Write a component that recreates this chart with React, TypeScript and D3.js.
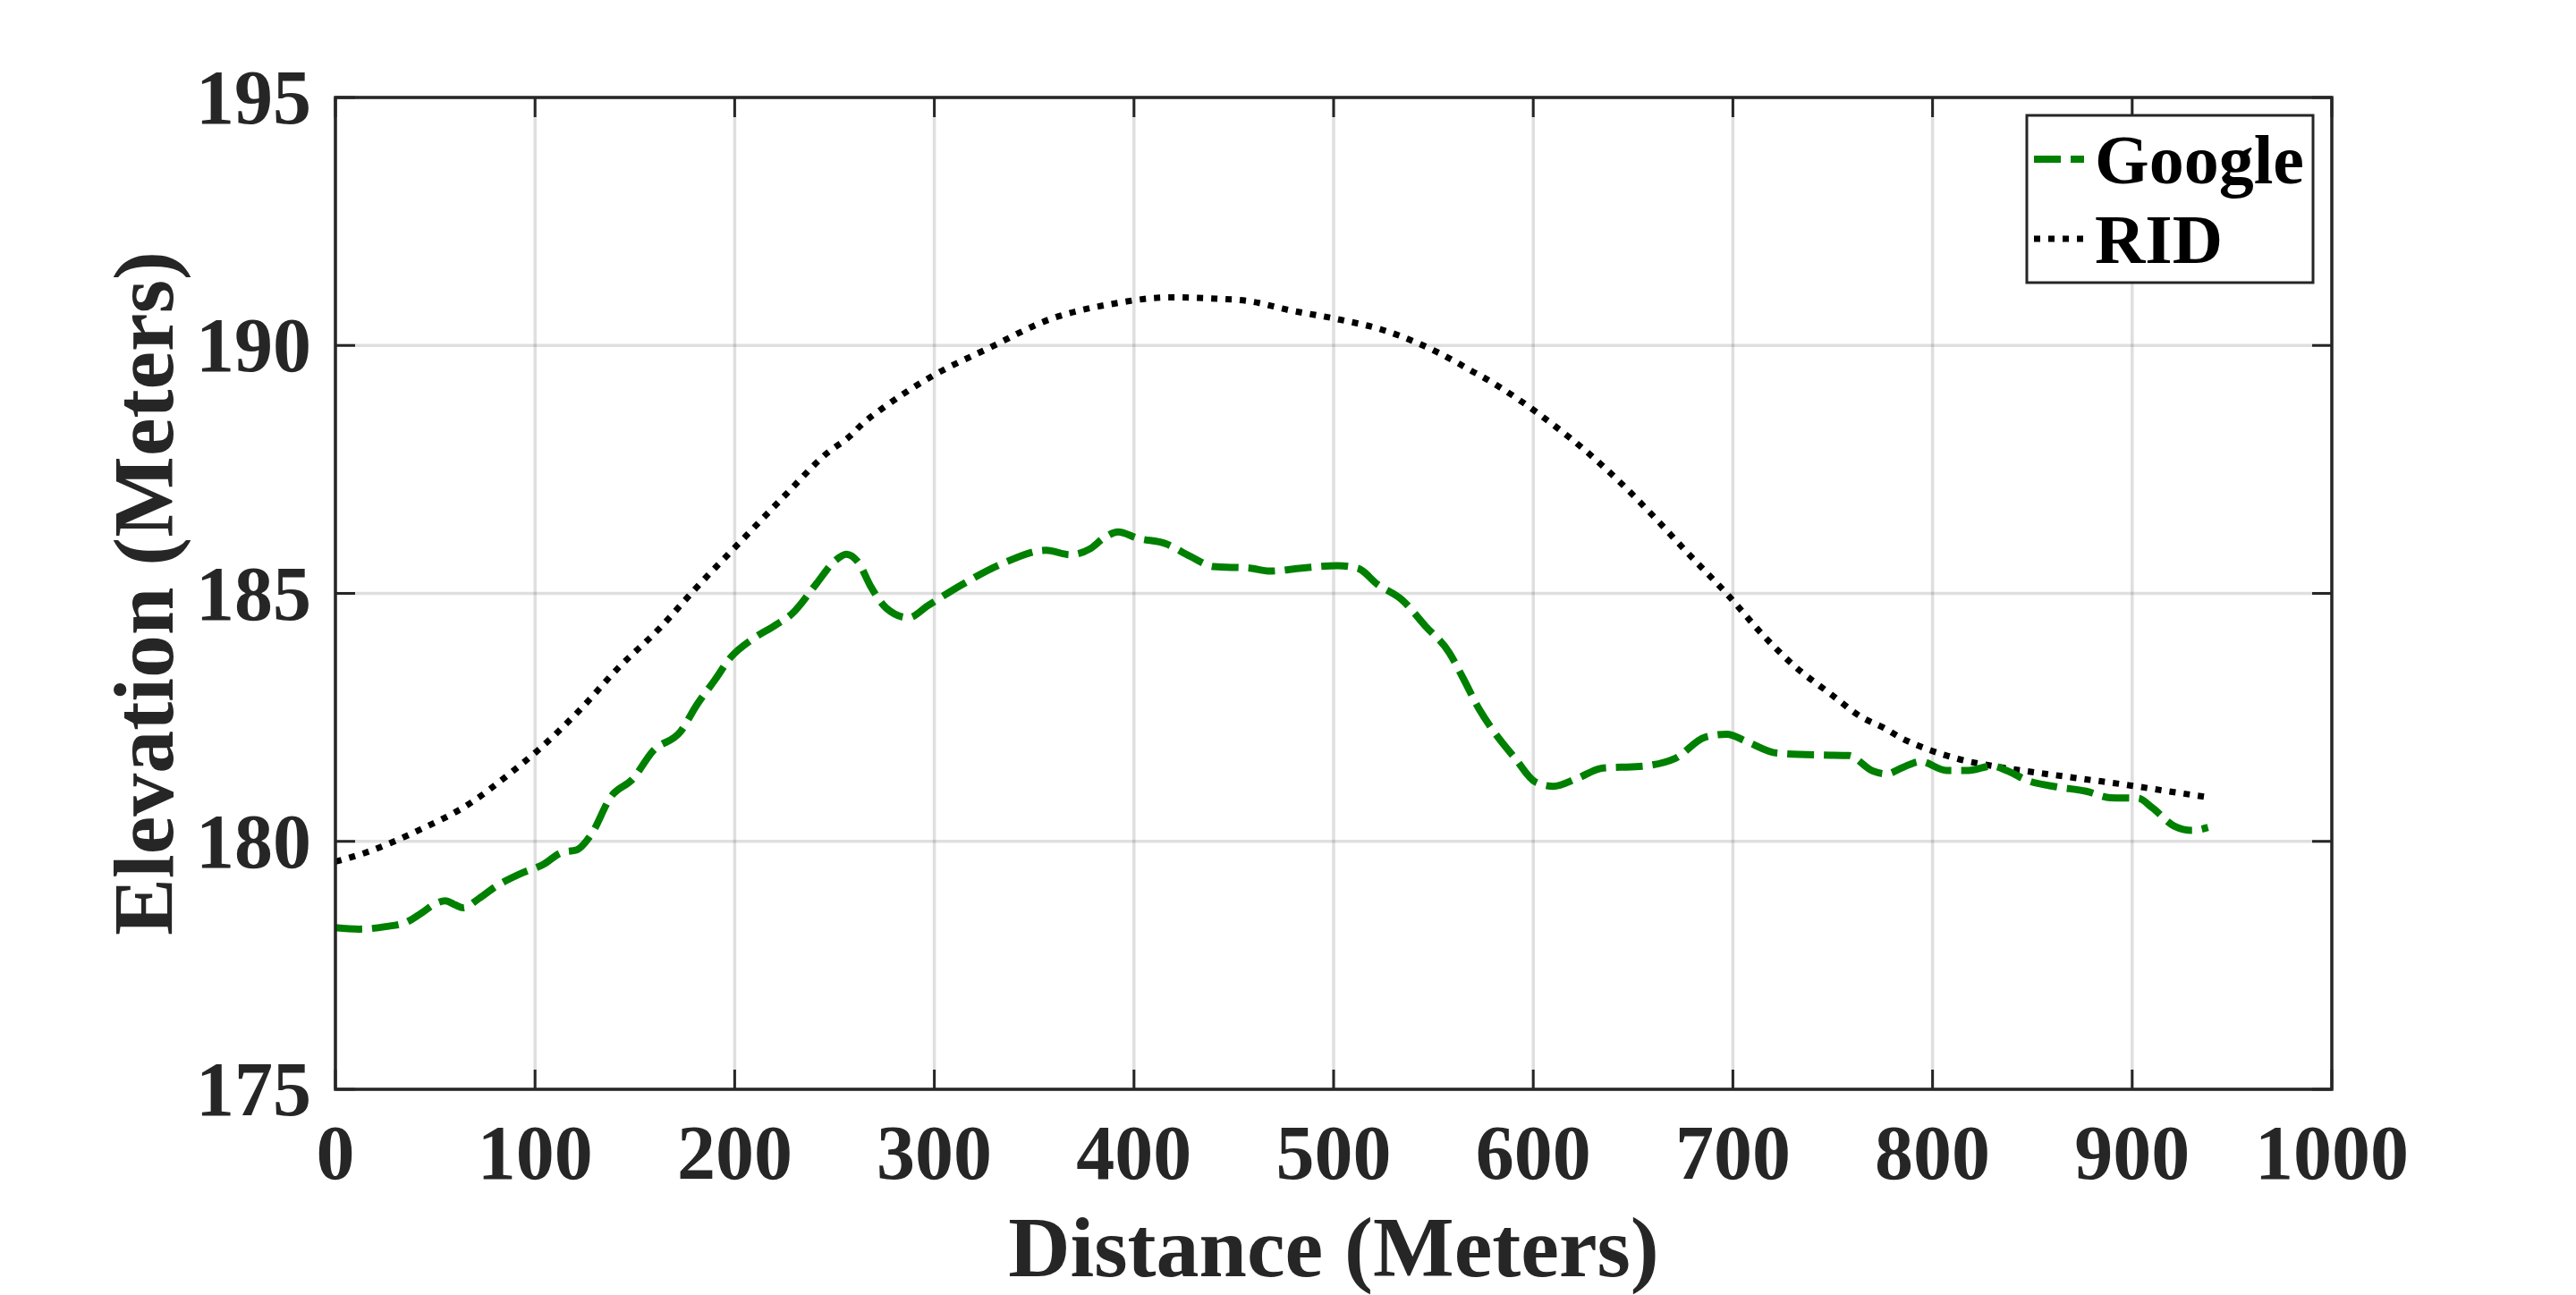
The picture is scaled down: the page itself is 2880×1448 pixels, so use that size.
import * as d3 from "d3";

const googleDist = [
  0, 12, 25, 35, 43, 50, 55, 60, 64, 72, 80, 94, 104, 113, 121, 128, 138, 149, 159, 173,
  181, 190, 198, 209, 220, 229, 241, 250, 256, 262, 268, 276, 287, 297, 314, 334, 356, 368,
  378, 385, 392, 402, 416, 428, 440, 458, 468, 484, 502, 512, 522, 534, 546, 558, 565, 573,
  580, 591, 601, 610, 622, 635, 653, 671, 686, 697, 707, 722, 745, 758, 770, 777, 785, 794,
  807, 818, 830, 837, 848, 862, 877, 889, 903, 910, 921, 930, 938,
];
const googleElev = [
  178.26, 178.23, 178.28, 178.36, 178.55, 178.74, 178.8, 178.72, 178.66, 178.85, 179.08,
  179.37, 179.53, 179.77, 179.83, 180.13, 180.9, 181.26, 181.82, 182.22, 182.75, 183.25,
  183.71, 184.08, 184.35, 184.6, 185.2, 185.65, 185.79, 185.62, 185.15, 184.7, 184.51,
  184.76, 185.18, 185.6, 185.87, 185.78, 185.9, 186.12, 186.24, 186.11, 186.0, 185.75,
  185.54, 185.51, 185.45, 185.51, 185.56, 185.51, 185.18, 184.88, 184.34, 183.8, 183.28,
  182.66, 182.23, 181.67, 181.2, 181.11, 181.27, 181.48, 181.51, 181.67, 182.1, 182.16,
  182.01, 181.78, 181.74, 181.73, 181.42, 181.36, 181.49, 181.61, 181.43, 181.43, 181.52,
  181.43, 181.22, 181.1, 181.01, 180.88, 180.87, 180.68, 180.31, 180.22, 180.28,
];

const ridDist = [
  0, 15, 41, 66, 89, 101, 121, 142, 162, 180, 204, 226, 246, 258, 264, 274, 298, 328, 358,
  388, 418, 438, 458, 478, 502, 524, 542, 562, 568, 574, 593, 610, 627, 643, 662, 677, 697,
  716, 731, 749, 765, 775, 785, 798, 812, 833, 855, 877, 897, 918, 938,
];
const ridElev = [
  179.59, 179.77, 180.21, 180.73, 181.42, 181.82, 182.59, 183.51, 184.28, 185.08, 186.09,
  187.01, 187.82, 188.18, 188.42, 188.73, 189.36, 189.96, 190.53, 190.83, 190.97, 190.95,
  190.89, 190.71, 190.53, 190.32, 190.05, 189.65, 189.51, 189.38, 188.9, 188.4, 187.85,
  187.26, 186.48, 185.83, 184.99, 184.12, 183.53, 182.97, 182.49, 182.3, 182.07, 181.85,
  181.67, 181.5, 181.37, 181.25, 181.14, 181.01, 180.89,
];

const xTicks = [0, 100, 200, 300, 400, 500, 600, 700, 800, 900, 1000];
const yTicks = [175, 180, 185, 190, 195];
const seriesNames = ["Google", "RID"];

const W = 2880;
const H = 1448;
const plot = { left: 375, right: 2607, top: 109, bottom: 1218 };
const axisColor = "#262626";
const font = "'Liberation Serif', 'Times New Roman', serif";

export default function App() {
  const x = d3.scaleLinear().domain([0, 1000]).range([plot.left, plot.right]);
  const y = d3.scaleLinear().domain([175, 195]).range([plot.bottom, plot.top]);

  const line = d3
    .line<[number, number]>()
    .x((d) => x(d[0]))
    .y((d) => y(d[1]))
    .curve(d3.curveMonotoneX);

  const googlePath = line(googleDist.map((d, i) => [d, googleElev[i]]))!;
  const ridPath = line(ridDist.map((d, i) => [d, ridElev[i]]))!;

  const tickLen = 22;

  return (
    <svg
      width={W}
      height={H}
      style={{ position: "absolute", left: 0, top: 0, background: "#fff" }}
    >
      <rect x={0} y={0} width={W} height={H} fill="#fff" />

      {/* grid */}
      {xTicks.map((t) => (
        <line
          key={"gx" + t}
          x1={x(t)}
          x2={x(t)}
          y1={plot.top}
          y2={plot.bottom}
          stroke={axisColor}
          strokeOpacity={0.15}
          strokeWidth={3.5}
        />
      ))}
      {yTicks.map((t) => (
        <line
          key={"gy" + t}
          x1={plot.left}
          x2={plot.right}
          y1={y(t)}
          y2={y(t)}
          stroke={axisColor}
          strokeOpacity={0.15}
          strokeWidth={3.5}
        />
      ))}

      {/* series */}
      <path
        d={ridPath}
        fill="none"
        stroke="#000"
        strokeWidth={7}
        strokeDasharray="7 9"
      />
      <path
        d={googlePath}
        fill="none"
        stroke="#008000"
        strokeWidth={8}
        strokeDasharray="30 11"
      />

      {/* ticks, inward, all four sides */}
      {xTicks.map((t) => (
        <g key={"tx" + t} stroke={axisColor} strokeWidth={3}>
          <line x1={x(t)} x2={x(t)} y1={plot.bottom} y2={plot.bottom - tickLen} />
          <line x1={x(t)} x2={x(t)} y1={plot.top} y2={plot.top + tickLen} />
        </g>
      ))}
      {yTicks.map((t) => (
        <g key={"ty" + t} stroke={axisColor} strokeWidth={3}>
          <line x1={plot.left} x2={plot.left + tickLen} y1={y(t)} y2={y(t)} />
          <line x1={plot.right} x2={plot.right - tickLen} y1={y(t)} y2={y(t)} />
        </g>
      ))}

      <rect
        x={plot.left}
        y={plot.top}
        width={plot.right - plot.left}
        height={plot.bottom - plot.top}
        fill="none"
        stroke={axisColor}
        strokeWidth={3.5}
      />

      {/* tick labels */}
      <g fontFamily={font} fontWeight="bold" fontSize={86} fill={axisColor}>
        {xTicks.map((t) => (
          <text key={"lx" + t} x={x(t)} y={1318} textAnchor="middle">
            {t}
          </text>
        ))}
        {yTicks.map((t) => (
          <text key={"ly" + t} x={348} y={y(t) + 29} textAnchor="end">
            {t}
          </text>
        ))}
      </g>

      {/* axis titles */}
      <text
        x={(plot.left + plot.right) / 2}
        y={1427}
        textAnchor="middle"
        fontFamily={font}
        fontWeight="bold"
        fontSize={96}
        fill={axisColor}
      >
        Distance (Meters)
      </text>
      <text
        transform={`translate(193,${(plot.top + plot.bottom) / 2}) rotate(-90)`}
        textAnchor="middle"
        fontFamily={font}
        fontWeight="bold"
        fontSize={96}
        fill={axisColor}
      >
        Elevation (Meters)
      </text>

      {/* legend */}
      <g>
        <rect
          x={2266}
          y={129}
          width={320}
          height={187}
          fill="#fff"
          stroke={axisColor}
          strokeWidth={3}
        />
        <line
          x1={2274}
          x2={2330}
          y1={178}
          y2={178}
          stroke="#008000"
          strokeWidth={8}
          strokeDasharray="30 11"
        />
        <line
          x1={2274}
          x2={2330}
          y1={267}
          y2={267}
          stroke="#000"
          strokeWidth={7}
          strokeDasharray="7 9"
        />
        <text x={2342} y={205} fontFamily={font} fontWeight="bold" fontSize={78} fill="#000">
          {seriesNames[0]}
        </text>
        <text x={2342} y={294} fontFamily={font} fontWeight="bold" fontSize={78} fill="#000">
          {seriesNames[1]}
        </text>
      </g>
    </svg>
  );
}
